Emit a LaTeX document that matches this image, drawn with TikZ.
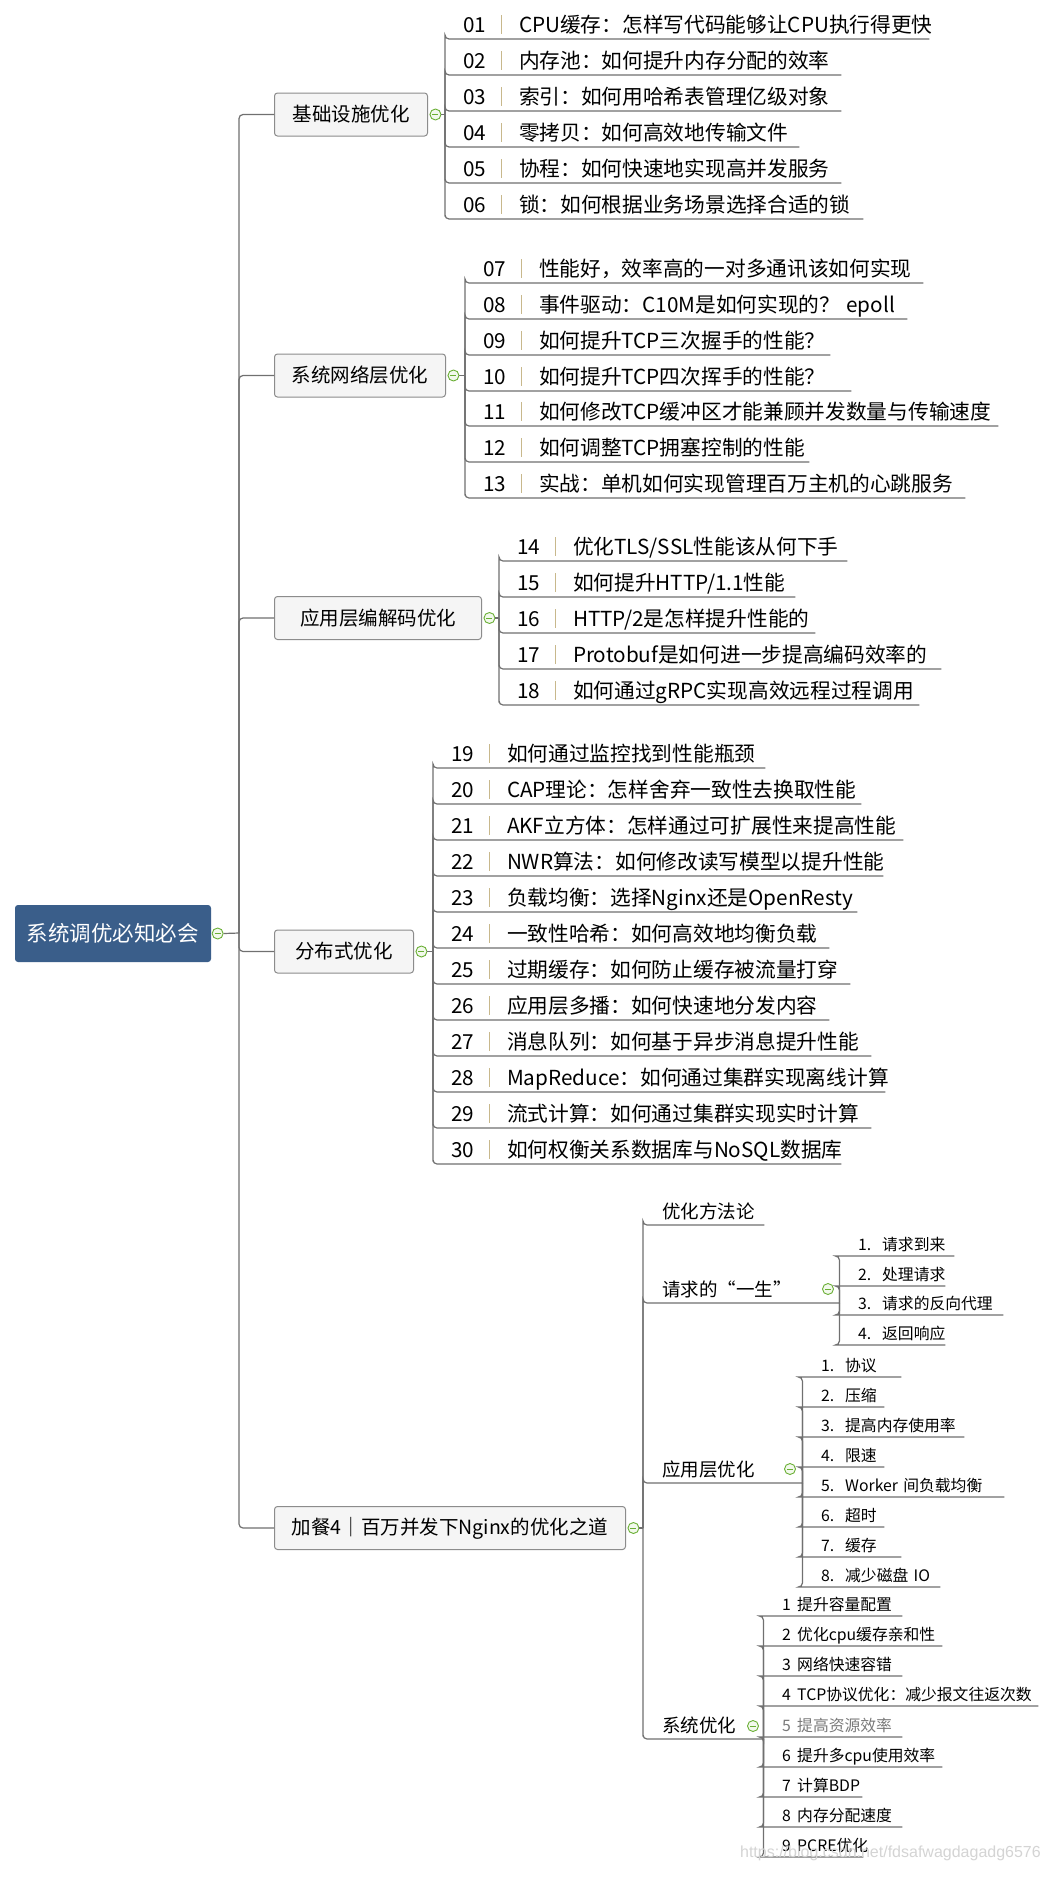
\documentclass[tikz,border=0pt]{standalone}
\usepackage{fontspec}
\setmainfont{Noto Sans CJK SC}
\newfontfamily\urlfont{Liberation Sans}
\usepackage{tikz}
\usetikzlibrary{positioning}

\definecolor{rootblue}{HTML}{3A5E8A}
\definecolor{boxfill}{HTML}{F5F5F5}
\definecolor{boxgray}{HTML}{8C8C8C}
\definecolor{linegray}{HTML}{707070}
\definecolor{togglegreen}{HTML}{6AAF35}
\definecolor{togglefill}{HTML}{F2F9EC}
\definecolor{sepolive}{HTML}{C8B88C}
\definecolor{fadedtext}{HTML}{7A7A7A}
\definecolor{wmgray}{HTML}{D4D4D4}

\newcommand{\lessonno}[1]{\kern18pt\makebox[22pt][l]{#1}\kern16pt{\color{sepolive}\rule[-1pt]{0.8pt}{19pt}}\kern17pt}
\newcommand{\stepno}[2]{\kern19pt\makebox[#1][l]{#2}}

\begin{document}
\begin{tikzpicture}[x=1pt, y=-1pt,
    link/.style={draw=linegray, line width=1.2pt, rounded corners=4pt},
    rootbox/.style={fill=rootblue, rounded corners=3pt, inner sep=0pt,
        minimum height=57pt, text=white, font=\fontsize{21.5}{24}\selectfont},
    topic/.style={draw=boxgray, fill=boxfill, line width=1pt, rounded corners=3pt,
        inner sep=0pt, minimum height=43pt, anchor=west, font=\fontsize{19.5}{22}\selectfont},
    toggle/.style={circle, draw=togglegreen, fill=togglefill, line width=0.9pt,
        minimum size=11pt, inner sep=0pt,
        path picture={\draw[togglegreen, line width=1pt]
            ([xshift=2.5pt]path picture bounding box.west) --
            ([xshift=-2.5pt]path picture bounding box.east);}},
    lesson/.style={anchor=south west, inner xsep=0pt, inner ysep=2pt,
        text width=#1pt, align=left, text height=16pt, text depth=4pt,
        font=\fontsize{20.7}{24}\selectfont},
    phase/.style={lesson=#1, text height=14pt, font=\fontsize{18.5}{22}\selectfont},
    detail/.style={lesson=#1, inner ysep=1.5pt, text height=13pt, text depth=3.5pt,
        font=\fontsize{15.8}{18}\selectfont},
]
    \fill[white] (0,0) rectangle (1045,1877);
    \useasboundingbox (0,0) rectangle (1045,1877);

    % root
    \node[rootbox, minimum width=196pt] (root) at (113,933.5) {系统调优必知必会};
    \node[toggle, right=0.5pt of root] (root-t) {};
    \coordinate (trunk) at (239,933);

    % topics
    \node[topic, minimum width=153pt] (b1) at (274,114.5) {基础设施优化};
    \node[topic, minimum width=171pt] (b2) at (274,375.5) {系统网络层优化};
    \node[topic, minimum width=207pt] (b3) at (274,618) {应用层编解码优化};
    \node[topic, minimum width=139pt] (b4) at (274,951.5) {分布式优化};
    \node[topic, minimum width=351pt] (b5) at (274,1528) {加餐4｜百万并发下Nginx的优化之道};

    \node[toggle, right=1.5pt of b1] (b1-t) {};
    \node[toggle, right=1.5pt of b2] (b2-t) {};
    \node[toggle, right=1.5pt of b3] (b3-t) {};
    \node[toggle, right=1.5pt of b4] (b4-t) {};
    \node[toggle, right=1.5pt of b5] (b5-t) {};

    \coordinate (j1) at (445,114.5);
    \coordinate (j2) at (465,375.5);
    \coordinate (j3) at (499,618);
    \coordinate (j4) at (433,951.5);
    \coordinate (j5) at (643,1528);

    % 01-06
    \node[lesson=484] (e01) at (445,39) {\lessonno{01}CPU缓存：怎样写代码能够让CPU执行得更快};
    \node[lesson=396] (e02) at (445,75) {\lessonno{02}内存池：如何提升内存分配的效率};
    \node[lesson=396] (e03) at (445,111) {\lessonno{03}索引：如何用哈希表管理亿级对象};
    \node[lesson=354] (e04) at (445,147) {\lessonno{04}零拷贝：如何高效地传输文件};
    \node[lesson=396] (e05) at (445,183) {\lessonno{05}协程：如何快速地实现高并发服务};
    \node[lesson=418] (e06) at (445,219) {\lessonno{06}锁：如何根据业务场景选择合适的锁};

    % 07-13
    \node[lesson=458] (e07) at (465,283) {\lessonno{07}性能好，效率高的一对多通讯该如何实现};
    \node[lesson=442] (e08) at (465,319) {\lessonno{08}事件驱动：C10M是如何实现的？\kern6pt epoll};
    \node[lesson=365] (e09) at (465,355) {\lessonno{09}如何提升TCP三次握手的性能？};
    \node[lesson=386] (e10) at (465,391) {\lessonno{10}如何提升TCP四次挥手的性能？};
    \node[lesson=533] (e11) at (465,426) {\lessonno{11}如何修改TCP缓冲区才能兼顾并发数量与传输速度};
    \node[lesson=344] (e12) at (465,462) {\lessonno{12}如何调整TCP拥塞控制的性能};
    \node[lesson=500] (e13) at (465,498) {\lessonno{13}实战：单机如何实现管理百万主机的心跳服务};

    % 14-18
    \node[lesson=348] (e14) at (499,561) {\lessonno{14}优化TLS/SSL性能该从何下手};
    \node[lesson=296] (e15) at (499,597) {\lessonno{15}如何提升HTTP/1.1性能};
    \node[lesson=316] (e16) at (499,633) {\lessonno{16}HTTP/2是怎样提升性能的};
    \node[lesson=442] (e17) at (499,669) {\lessonno{17}Protobuf是如何进一步提高编码效率的};
    \node[lesson=420] (e18) at (499,705) {\lessonno{18}如何通过gRPC实现高效远程过程调用};

    % 19-30
    \node[lesson=332] (e19) at (433,768) {\lessonno{19}如何通过监控找到性能瓶颈};
    \node[lesson=428] (e20) at (433,804) {\lessonno{20}CAP理论：怎样舍弃一致性去换取性能};
    \node[lesson=470] (e21) at (433,840) {\lessonno{21}AKF立方体：怎样通过可扩展性来提高性能};
    \node[lesson=450] (e22) at (433,876) {\lessonno{22}NWR算法：如何修改读写模型以提升性能};
    \node[lesson=424] (e23) at (433,912) {\lessonno{23}负载均衡：选择Nginx还是OpenResty};
    \node[lesson=396] (e24) at (433,948) {\lessonno{24}一致性哈希：如何高效地均衡负载};
    \node[lesson=417] (e25) at (433,984) {\lessonno{25}过期缓存：如何防止缓存被流量打穿};
    \node[lesson=396] (e26) at (433,1020) {\lessonno{26}应用层多播：如何快速地分发内容};
    \node[lesson=438] (e27) at (433,1056) {\lessonno{27}消息队列：如何基于异步消息提升性能};
    \node[lesson=452] (e28) at (433,1092) {\lessonno{28}MapReduce：如何通过集群实现离线计算};
    \node[lesson=438] (e29) at (433,1128) {\lessonno{29}流式计算：如何通过集群实现实时计算};
    \node[lesson=408] (e30) at (433,1164) {\lessonno{30}如何权衡关系数据库与NoSQL数据库};

    % nginx
    \node[phase=121] (p1) at (643,1225) {\kern19pt 优化方法论};
    \node[phase=196] (p2) at (643,1303) {\kern19pt 请求的“一生”};
    \node[phase=159] (p3) at (643,1483) {\kern19pt 应用层优化};
    \node[phase=120] (p4) at (643,1739) {\kern19pt 系统优化};

    \node[toggle] (p2-t) at (828,1289) {};
    \node[toggle] (p3-t) at (790,1469) {};
    \node[toggle] (p4-t) at (753,1726) {};

    \coordinate (k2) at (p2.south east);
    \coordinate (k3) at (p3.south east);
    \coordinate (k4) at (p4.south east);

    \node[detail=115] (r1) at (839,1256) {\stepno{24pt}{1.}请求到来};
    \node[detail=106] (r2) at (839,1286) {\stepno{24pt}{2.}处理请求};
    \node[detail=164] (r3) at (839,1315) {\stepno{24pt}{3.}请求的反向代理};
    \node[detail=106] (r4) at (839,1345) {\stepno{24pt}{4.}返回响应};

    \node[detail=99] (a1) at (802,1377) {\stepno{24pt}{1.}协议};
    \node[detail=82] (a2) at (802,1407) {\stepno{24pt}{2.}压缩};
    \node[detail=162] (a3) at (802,1437) {\stepno{24pt}{3.}提高内存使用率};
    \node[detail=82] (a4) at (802,1467) {\stepno{24pt}{4.}限速};
    \node[detail=202] (a5) at (802,1497) {\stepno{24pt}{5.}Worker~间负载均衡};
    \node[detail=82] (a6) at (802,1527) {\stepno{24pt}{6.}超时};
    \node[detail=99] (a7) at (802,1557) {\stepno{24pt}{7.}缓存};
    \node[detail=138] (a8) at (802,1587) {\stepno{24pt}{8.}减少磁盘~IO};

    \node[detail=139] (y1) at (763,1616) {\stepno{15pt}{1}提升容量配置};
    \node[detail=179] (y2) at (763,1646) {\stepno{15pt}{2}优化cpu缓存亲和性};
    \node[detail=139] (y3) at (763,1676) {\stepno{15pt}{3}网络快速容错};
    \node[detail=275] (y4) at (763,1706) {\stepno{15pt}{4}TCP协议优化：减少报文往返次数};
    \node[detail=139, text=fadedtext] (y5) at (763,1737) {\stepno{15pt}{5}提高资源效率};
    \node[detail=179] (y6) at (763,1767) {\stepno{15pt}{6}提升多cpu使用效率};
    \node[detail=99] (y7) at (763,1797) {\stepno{15pt}{7}计算BDP};
    \node[detail=139] (y8) at (763,1827) {\stepno{15pt}{8}内存分配速度};
    \node[detail=100] (y9) at (763,1857) {\stepno{15pt}{9}PCRE优化};

    % connectors
    \draw[link] (root-t.east) -- (trunk);
    \draw[link] (trunk) |- (b1.west);
    \draw[link] (trunk) |- (b2.west);
    \draw[link] (trunk) |- (b3.west);
    \draw[link] (trunk) |- (b4.west);
    \draw[link] (trunk) |- (b5.west);

    \draw[link] (b1-t.east) -- (j1);
    \draw[link] (b2-t.east) -- (j2);
    \draw[link] (b3-t.east) -- (j3);
    \draw[link] (b4-t.east) -- (j4);
    \draw[link] (b5-t.east) -- (j5);

    \draw[link] (j1) |- (e01.south west) -- (e01.south east);
    \draw[link] (j1) |- (e02.south west) -- (e02.south east);
    \draw[link] (j1) |- (e03.south west) -- (e03.south east);
    \draw[link] (j1) |- (e04.south west) -- (e04.south east);
    \draw[link] (j1) |- (e05.south west) -- (e05.south east);
    \draw[link] (j1) |- (e06.south west) -- (e06.south east);

    \draw[link] (j2) |- (e07.south west) -- (e07.south east);
    \draw[link] (j2) |- (e08.south west) -- (e08.south east);
    \draw[link] (j2) |- (e09.south west) -- (e09.south east);
    \draw[link] (j2) |- (e10.south west) -- (e10.south east);
    \draw[link] (j2) |- (e11.south west) -- (e11.south east);
    \draw[link] (j2) |- (e12.south west) -- (e12.south east);
    \draw[link] (j2) |- (e13.south west) -- (e13.south east);

    \draw[link] (j3) |- (e14.south west) -- (e14.south east);
    \draw[link] (j3) |- (e15.south west) -- (e15.south east);
    \draw[link] (j3) |- (e16.south west) -- (e16.south east);
    \draw[link] (j3) |- (e17.south west) -- (e17.south east);
    \draw[link] (j3) |- (e18.south west) -- (e18.south east);

    \draw[link] (j4) |- (e19.south west) -- (e19.south east);
    \draw[link] (j4) |- (e20.south west) -- (e20.south east);
    \draw[link] (j4) |- (e21.south west) -- (e21.south east);
    \draw[link] (j4) |- (e22.south west) -- (e22.south east);
    \draw[link] (j4) |- (e23.south west) -- (e23.south east);
    \draw[link] (j4) |- (e24.south west) -- (e24.south east);
    \draw[link] (j4) |- (e25.south west) -- (e25.south east);
    \draw[link] (j4) |- (e26.south west) -- (e26.south east);
    \draw[link] (j4) |- (e27.south west) -- (e27.south east);
    \draw[link] (j4) |- (e28.south west) -- (e28.south east);
    \draw[link] (j4) |- (e29.south west) -- (e29.south east);
    \draw[link] (j4) |- (e30.south west) -- (e30.south east);

    \draw[link] (j5) |- (p1.south west) -- (p1.south east);
    \draw[link] (j5) |- (p2.south west) -- (k2);
    \draw[link] (j5) |- (p3.south west) -- (k3);
    \draw[link] (j5) |- (p4.south west) -- (k4);

    \draw[link] (k2) |- (r1.south west) -- (r1.south east);
    \draw[link] (k2) |- (r2.south west) -- (r2.south east);
    \draw[link] (k2) |- (r3.south west) -- (r3.south east);
    \draw[link] (k2) |- (r4.south west) -- (r4.south east);

    \draw[link] (k3) |- (a1.south west) -- (a1.south east);
    \draw[link] (k3) |- (a2.south west) -- (a2.south east);
    \draw[link] (k3) |- (a3.south west) -- (a3.south east);
    \draw[link] (k3) |- (a4.south west) -- (a4.south east);
    \draw[link] (k3) |- (a5.south west) -- (a5.south east);
    \draw[link] (k3) |- (a6.south west) -- (a6.south east);
    \draw[link] (k3) |- (a7.south west) -- (a7.south east);
    \draw[link] (k3) |- (a8.south west) -- (a8.south east);

    \draw[link] (k4) |- (y1.south west) -- (y1.south east);
    \draw[link] (k4) |- (y2.south west) -- (y2.south east);
    \draw[link] (k4) |- (y3.south west) -- (y3.south east);
    \draw[link] (k4) |- (y4.south west) -- (y4.south east);
    \draw[link] (k4) |- (y5.south west) -- (y5.south east);
    \draw[link] (k4) |- (y6.south west) -- (y6.south east);
    \draw[link] (k4) |- (y7.south west) -- (y7.south east);
    \draw[link] (k4) |- (y8.south west) -- (y8.south east);
    \draw[link] (k4) |- (y9.south west) -- (y9.south east);

    % watermark
    \node[anchor=east, inner sep=0pt, text=wmgray, font=\urlfont\fontsize{16}{18}\selectfont]
        (wm) at (1041,1853) {https://blog.csdn.net/fdsafwagdagadg6576};
\end{tikzpicture}
\end{document}
